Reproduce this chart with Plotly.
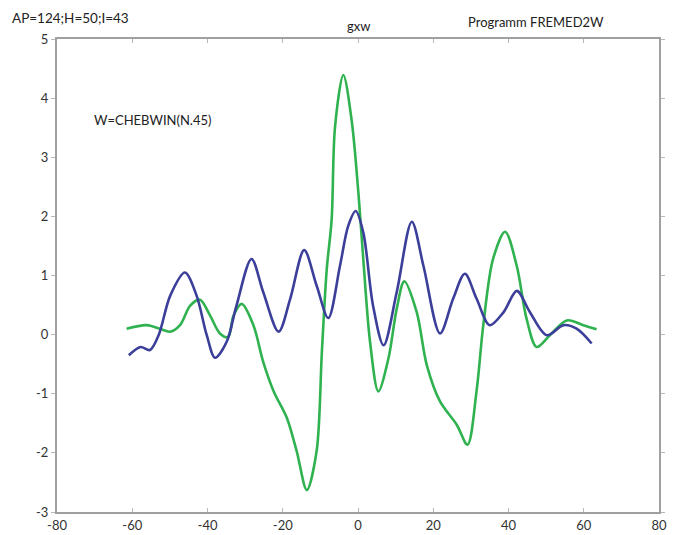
import plotly.graph_objects as go

# Blue curve (x, y)
blue_x = [-60.9, -57.8, -55.3, -53.0, -49.9, -46.0, -42.9, -40.2, -38.0, -34.9,
          -32.3, -28.3, -25.2, -21.1, -18.0, -14.3, -11.0, -7.9, -4.8, -2.6,
          -0.6, 1.4, 4.0, 6.8, 10.3, 14.3, 17.4, 21.8, 25.3, 28.4,
          31.5, 35.0, 38.7, 42.2, 45.7, 50.2, 54.6, 58.1, 62.1]
blue_y = [-0.35, -0.21, -0.26, -0.01, 0.66, 1.05, 0.66, -0.01, -0.39, -0.12,
          0.49, 1.28, 0.72, 0.05, 0.61, 1.43, 0.83, 0.28, 1.16, 1.84,
          2.09, 1.73, 0.49, -0.18, 0.72, 1.91, 1.16, 0.02, 0.61, 1.03,
          0.61, 0.16, 0.38, 0.74, 0.38, -0.01, 0.16, 0.10, -0.15]

# Green curve (x, y)
green_x = [-61.5, -56.2, -52.7, -49.9, -47.3, -44.6, -42.0, -39.3, -36.7, -34.5,
           -33.1, -30.9, -27.8, -25.2, -22.4, -18.9, -16.3, -13.6, -11.0, -9.6,
           -8.3, -7.0, -6.1, -3.9, -1.7, 0.1, 1.4, 3.2, 5.4, 8.1,
           10.3, 12.3, 15.6, 18.3, 21.8, 26.2, 29.1, 31.5, 33.3, 35.9,
           39.1, 42.2, 44.8, 47.5, 51.0, 55.5, 59.9, 63.4]
green_y = [0.10, 0.16, 0.10, 0.05, 0.16, 0.49, 0.59, 0.32, 0.02, -0.04,
           0.32, 0.52, 0.16, -0.46, -0.96, -1.41, -1.97, -2.63, -1.97, -0.29,
           1.11, 1.95, 3.52, 4.39, 3.63, 2.40, 1.28, -0.12, -0.96, -0.40,
           0.44, 0.90, 0.38, -0.52, -1.13, -1.52, -1.86, -0.96, 0.16, 1.28,
           1.74, 1.16, 0.27, -0.21, -0.01, 0.24, 0.16, 0.09]

x_ticks = [-80, -60, -40, -20, 0, 20, 40, 60, 80]
y_ticks = [-3, -2, -1, 0, 1, 2, 3, 4, 5]

fig = go.Figure()
fig.add_trace(go.Scatter(x=green_x, y=green_y, mode="lines",
                         line=dict(color="#2fb24f", width=2.6, shape="spline", smoothing=0.9),
                         showlegend=False, hoverinfo="skip"))
fig.add_trace(go.Scatter(x=blue_x, y=blue_y, mode="lines",
                         line=dict(color="#3c3f9a", width=2.6, shape="spline", smoothing=0.9),
                         showlegend=False, hoverinfo="skip"))

font_family = "Lato, Open Sans, Liberation Sans, sans-serif"
axis_common = dict(showgrid=False, zeroline=False, showline=True, linecolor="#a0a0a0",
                   linewidth=2, mirror="ticks", ticklen=4, tickcolor="#b8b8b8",
                   automargin=False,
                   tickfont=dict(family=font_family, size=13, color="#333333"))

fig.update_xaxes(range=[-80, 80], tickvals=x_ticks, ticktext=[str(v) for v in x_ticks],
                 ticks="inside", **axis_common)
fig.update_yaxes(range=[-3, 5], tickvals=y_ticks, ticktext=[str(v) for v in y_ticks],
                 ticks="outside", **axis_common)

fig.update_layout(
    width=676, height=535,
    margin=dict(l=57, r=17, t=39, b=23),
    paper_bgcolor="white", plot_bgcolor="white",
    font=dict(family=font_family, size=13, color="#222222"),
    annotations=[
        dict(text="AP=124;H=50;I=43", xref="paper", yref="paper", x=-0.078, y=1.044,
             xanchor="left", yanchor="middle", showarrow=False,
             font=dict(size=13.5, family=font_family, color="#222222")),
        dict(text="gxw", xref="paper", yref="paper", x=0.5, y=1.027,
             xanchor="center", yanchor="middle", showarrow=False,
             font=dict(size=13, family=font_family, color="#222222")),
        dict(text="Programm FREMED2W", xref="paper", yref="paper", x=0.679, y=1.036,
             xanchor="left", yanchor="middle", showarrow=False,
             font=dict(size=13, family=font_family, color="#222222")),
        dict(text="W=CHEBWIN(N.45)", xref="paper", yref="paper", x=0.058, y=0.829,
             xanchor="left", yanchor="middle", showarrow=False,
             font=dict(size=13, family=font_family, color="#222222")),
    ],
)

fig.write_html("out.html", config={"displayModeBar": False},
               post_script="document.body.style.margin='0';")
